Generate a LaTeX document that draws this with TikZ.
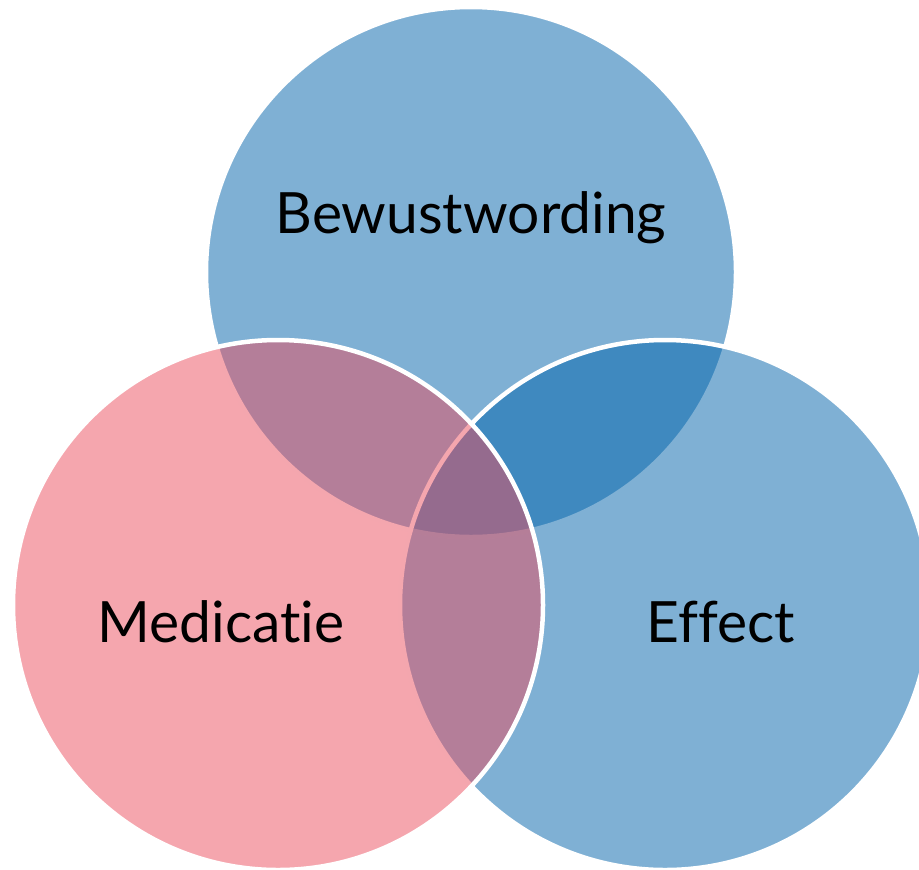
\documentclass[tikz,border=0pt]{standalone}
\usepackage{fontspec}
\setmainfont{Lato}[Ligatures={NoCommon,NoRare},RawFeature={-liga;-dlig;-clig}]
\definecolor{vblue}{RGB}{0,98,170}
\definecolor{vpink}{RGB}{235,78,94}
\begin{document}
\begin{tikzpicture}[x=0.02cm,y=-0.02cm,
  venn/.style={circle,minimum size=530*0.02cm,inner sep=0pt,draw=white,line width=0.09cm,fill opacity=0.5,draw opacity=1},
  lbl/.style={font=\fontsize{32.4}{40}\selectfont,text=black}]
\useasboundingbox (0,0) rectangle (919,869);
\node[venn,fill=vblue] (top) at (471,272) {};
\node[venn,fill=vblue] (right) at (665,605) {};
\node[venn,fill=vpink] (left) at (278,605) {};
\node[lbl] (t1) at (471,218) {Bewustwording};
\node[lbl] (t2) at (221,622) {Medicatie};
\node[lbl] (t3) at (721,622) {Effect};
\end{tikzpicture}
\end{document}
